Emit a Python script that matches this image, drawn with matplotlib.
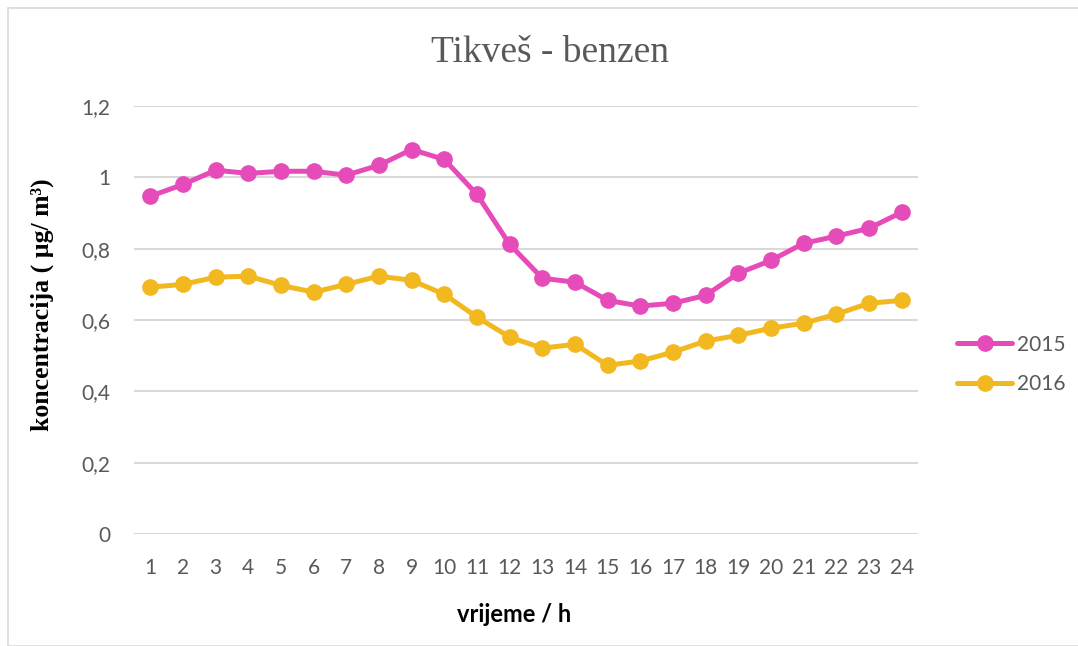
import matplotlib
matplotlib.use('Agg')
import matplotlib.pyplot as plt
from matplotlib.patches import Rectangle
from matplotlib.ticker import FuncFormatter

# Sati u danu
sati = list(range(1, 25))

# Srednje koncentracije benzena po satu
benzen_2015 = [0.947, 0.980, 1.020, 1.011, 1.017, 1.017, 1.006, 1.034, 1.078, 1.050,
               0.952, 0.812, 0.717, 0.706, 0.655, 0.639, 0.647, 0.669, 0.731, 0.767,
               0.815, 0.835, 0.857, 0.902]
benzen_2016 = [0.692, 0.700, 0.720, 0.723, 0.697, 0.678, 0.700, 0.723, 0.711, 0.672,
               0.608, 0.552, 0.521, 0.532, 0.473, 0.485, 0.510, 0.541, 0.557, 0.577,
               0.591, 0.616, 0.647, 0.655]

y_ticks = [0, 0.2, 0.4, 0.6, 0.8, 1.0, 1.2]

fig = plt.figure(figsize=(10.78, 6.46), dpi=100)
ax = fig.add_axes([134 / 1078, 1 - 534 / 646, 784 / 1078, 428 / 646])

# okvir grafikona
fig.patches.append(Rectangle((8 / 1078, 0), 1.2, 1 - 8 / 646, transform=fig.transFigure,
                             fill=False, edgecolor='#d9d9d9', linewidth=1.2))

ax.plot(sati, benzen_2015, color='#E64CB9', linewidth=3.6, marker='o', markersize=11,
        label='2015', solid_capstyle='round', zorder=3)
ax.plot(sati, benzen_2016, color='#F2B81F', linewidth=3.6, marker='o', markersize=11,
        label='2016', solid_capstyle='round', zorder=3)

ax.set_xlim(0.5, 24.5)
ax.set_ylim(0, 1.2)
ax.set_xticks(sati)
ax.set_yticks(y_ticks)
ax.yaxis.set_major_formatter(FuncFormatter(lambda v, p: ('%g' % round(v, 1)).replace('.', ',')))
ax.grid(axis='y', color='#d9d9d9', linewidth=1.5)
ax.set_axisbelow(True)
for s in ax.spines.values():
    s.set_visible(False)
ax.tick_params(length=0, labelsize=15, labelcolor='#595959')
ax.tick_params(axis='x', pad=17)
ax.tick_params(axis='y', pad=17)
for lab in ax.get_xticklabels() + ax.get_yticklabels():
    lab.set_family('Lato')

fig.text(550 / 1078, 1 - 53 / 646, 'Tikveš - benzen', ha='center', va='center',
         family='Liberation Serif', fontsize=27, color='#595959')
fig.text(42 / 1078, 1 - 305 / 646, 'koncentracija ( µg/ m³)', rotation=90, ha='center',
         va='center', family='Liberation Serif', fontweight='bold', fontsize=18.5)
fig.text(514 / 1078, 1 - 614 / 646, 'vrijeme / h', ha='center', va='center',
         family='Lato', fontweight='bold', fontsize=17)

leg = ax.legend(loc='center left', bbox_to_anchor=(957 / 1078, 1 - 364.5 / 646),
                bbox_transform=fig.transFigure, frameon=False, borderpad=0, borderaxespad=0,
                prop={'family': 'Lato', 'size': 15}, handlelength=2.65, handletextpad=0.25,
                labelspacing=0.95)
for t in leg.get_texts():
    t.set_color('#595959')

fig.savefig('out.png', dpi=100)
